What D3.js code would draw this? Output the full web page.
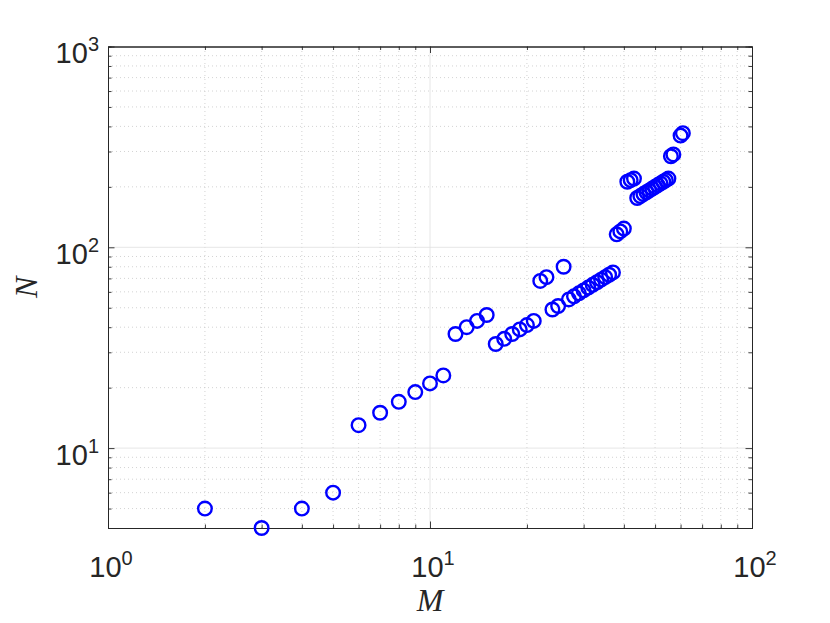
<!DOCTYPE html>
<html>
<head>
<meta charset="utf-8">
<script src="https://cdn.jsdelivr.net/npm/d3@7"></script>
<style>
  body { margin: 0; background: #fff; }
  svg { display: block; }
</style>
</head>
<body>
<div id="chart"></div>
<script>
/* Data: M on x, N on y */
const mValues = [2, 3, 4, 5, 6, 7, 8, 9, 10, 11,
    12, 13, 14, 15,
    16, 17, 18, 19, 20, 21,
    22, 23, 24, 25, 26,
    27, 28, 29, 30, 31, 32, 33, 34, 35, 36, 37,
    38, 39, 40, 41, 42, 43,
    44, 45, 46, 47, 48, 49, 50, 51, 52, 53, 54, 55,
    56, 57, 60, 61];
const nValues = [5, 4, 5, 6, 13, 15, 17, 19, 21, 23,
    37, 40, 43, 46,
    33, 35, 37, 39, 41, 43,
    68, 71, 49, 51, 80,
    55, 57, 59, 61, 63, 65, 67, 69, 71, 73, 75,
    116, 120, 124, 212, 216, 220,
    176, 180, 184, 188, 192, 196, 200, 204, 208, 212, 216, 220,
    284, 290, 360, 370];

const xTicks = [1, 10, 100];
const yTicks = [10, 100, 1000];
const xLabel = "M", yLabel = "N";

const data = mValues.map((m, i) => ({m: m, n: nValues[i]}));

/* Size and margins of the figure */
const width = 830, height = 623;
const margins = {top: 46.5, right: 78, bottom: 95, left: 108};
const axisColor = "#262626";

const svg = d3.select("#chart")
    .append("svg")
    .attr("width", width)
    .attr("height", height);

const xScale = d3.scaleLog()
    .domain([1, 100])
    .range([margins.left, width - margins.right]);
const yScale = d3.scaleLog()
    .domain([4, 1000])
    .range([height - margins.bottom, margins.top]);

const x0 = margins.left, x1 = width - margins.right;
const y0 = height - margins.bottom, y1 = margins.top;

// minor positions = every log tick that is not a power of ten
const isMajor = v => Math.abs(Math.log10(v) - Math.round(Math.log10(v))) < 1e-9;
const xMinor = xScale.ticks().filter(v => !isMajor(v));
const yMinor = yScale.ticks().filter(v => !isMajor(v) && v > 4);
const xMajorIn = xTicks.filter(v => v > 1 && v < 100);
const yMajorIn = yTicks.filter(v => v < 1000);

/* Grid: dotted minor lines, solid pale major lines */
const grid = svg.append("g").attr("class", "grid");
grid.selectAll(".xminor")
    .data(xMinor)
    .join("line")
    .attr("x1", d => xScale(d)).attr("x2", d => xScale(d))
    .attr("y1", y0).attr("y2", y1)
    .attr("stroke", "#c8c8c8")
    .attr("stroke-width", 0.8)
    .attr("stroke-dasharray", "1,3");
grid.selectAll(".yminor")
    .data(yMinor)
    .join("line")
    .attr("x1", x0).attr("x2", x1)
    .attr("y1", d => yScale(d)).attr("y2", d => yScale(d))
    .attr("stroke", "#c8c8c8")
    .attr("stroke-width", 0.8)
    .attr("stroke-dasharray", "1,3");
grid.selectAll(".xmajor")
    .data(xMajorIn)
    .join("line")
    .attr("x1", d => xScale(d)).attr("x2", d => xScale(d))
    .attr("y1", y0).attr("y2", y1)
    .attr("stroke", "#e0e0e0")
    .attr("stroke-width", 0.8);
grid.selectAll(".ymajor")
    .data(yMajorIn)
    .join("line")
    .attr("x1", x0).attr("x2", x1)
    .attr("y1", d => yScale(d)).attr("y2", d => yScale(d))
    .attr("stroke", "#e0e0e0")
    .attr("stroke-width", 0.8);

/* Axes with inward ticks on all four sides */
const fmt = () => "";
const gBottom = svg.append("g")
    .attr("transform", `translate(0,${y0})`)
    .call(d3.axisTop(xScale).tickValues(xTicks).tickFormat(fmt).tickSizeInner(6.5).tickSizeOuter(0));
const gBottomMinor = svg.append("g")
    .attr("transform", `translate(0,${y0})`)
    .call(d3.axisTop(xScale).tickValues(xMinor).tickFormat(fmt).tickSize(3.5));
const gTop = svg.append("g")
    .attr("transform", `translate(0,${y1})`)
    .call(d3.axisBottom(xScale).tickValues(xTicks).tickFormat(fmt).tickSizeInner(6.5).tickSizeOuter(0));
const gTopMinor = svg.append("g")
    .attr("transform", `translate(0,${y1})`)
    .call(d3.axisBottom(xScale).tickValues(xMinor).tickFormat(fmt).tickSize(3.5));
const gLeft = svg.append("g")
    .attr("transform", `translate(${x0},0)`)
    .call(d3.axisRight(yScale).tickValues(yTicks).tickFormat(fmt).tickSizeInner(6.5).tickSizeOuter(0));
const gLeftMinor = svg.append("g")
    .attr("transform", `translate(${x0},0)`)
    .call(d3.axisRight(yScale).tickValues(yMinor).tickFormat(fmt).tickSize(3.5));
const gRight = svg.append("g")
    .attr("transform", `translate(${x1},0)`)
    .call(d3.axisLeft(yScale).tickValues(yTicks).tickFormat(fmt).tickSizeInner(6.5).tickSizeOuter(0));
const gRightMinor = svg.append("g")
    .attr("transform", `translate(${x1},0)`)
    .call(d3.axisLeft(yScale).tickValues(yMinor).tickFormat(fmt).tickSize(3.5));

[gBottom, gBottomMinor, gTop, gTopMinor, gLeft, gLeftMinor, gRight, gRightMinor].forEach(g => {
    g.selectAll("path").attr("stroke", axisColor).attr("stroke-width", 1);
    g.selectAll("line").attr("stroke", axisColor).attr("stroke-width", 0.9);
    g.selectAll("text").remove();
});

/* Tick labels as 10 with a superscript exponent */
const labelFont = "'Liberation Sans', Arial, sans-serif";
function powerLabel(sel) {
    sel.append("tspan").text("10");
    sel.append("tspan")
        .attr("dy", "-0.6em")
        .attr("font-size", "20px")
        .text(d => Math.round(Math.log10(d)));
}

svg.append("g")
    .selectAll("text")
    .data(xTicks)
    .join("text")
    .attr("x", d => xScale(d) + 3)
    .attr("y", y0 + 49)
    .attr("text-anchor", "middle")
    .attr("font-family", labelFont)
    .attr("font-size", "29px")
    .attr("fill", axisColor)
    .call(powerLabel);

svg.append("g")
    .selectAll("text")
    .data(yTicks)
    .join("text")
    .attr("x", x0 - 9)
    .attr("y", d => yScale(d) + 16.5)
    .attr("text-anchor", "end")
    .attr("font-family", labelFont)
    .attr("font-size", "29px")
    .attr("fill", axisColor)
    .call(powerLabel);

/* Axis titles in an italic serif, like LaTeX */
svg.append("text")
    .attr("x", (x0 + x1) / 2)
    .attr("y", height - 12)
    .attr("text-anchor", "middle")
    .attr("font-family", "'Liberation Serif', 'DejaVu Serif', serif")
    .attr("font-style", "italic")
    .attr("font-size", "32px")
    .attr("fill", axisColor)
    .text(xLabel);

svg.append("text")
    .attr("transform", `translate(37,${(y0 + y1) / 2}) rotate(-90)`)
    .attr("text-anchor", "middle")
    .attr("font-family", "'Liberation Serif', 'DejaVu Serif', serif")
    .attr("font-style", "italic")
    .attr("font-size", "32px")
    .attr("fill", axisColor)
    .text(yLabel);

/* The markers: open blue circles */
svg.append("g")
    .attr("class", "points")
    .selectAll("circle")
    .data(data)
    .join("circle")
    .attr("cx", d => xScale(d.m))
    .attr("cy", d => yScale(d.n))
    .attr("r", 6.8)
    .attr("fill", "none")
    .attr("stroke", "#0000ff")
    .attr("stroke-width", 2.4);
</script>
</body>
</html>
